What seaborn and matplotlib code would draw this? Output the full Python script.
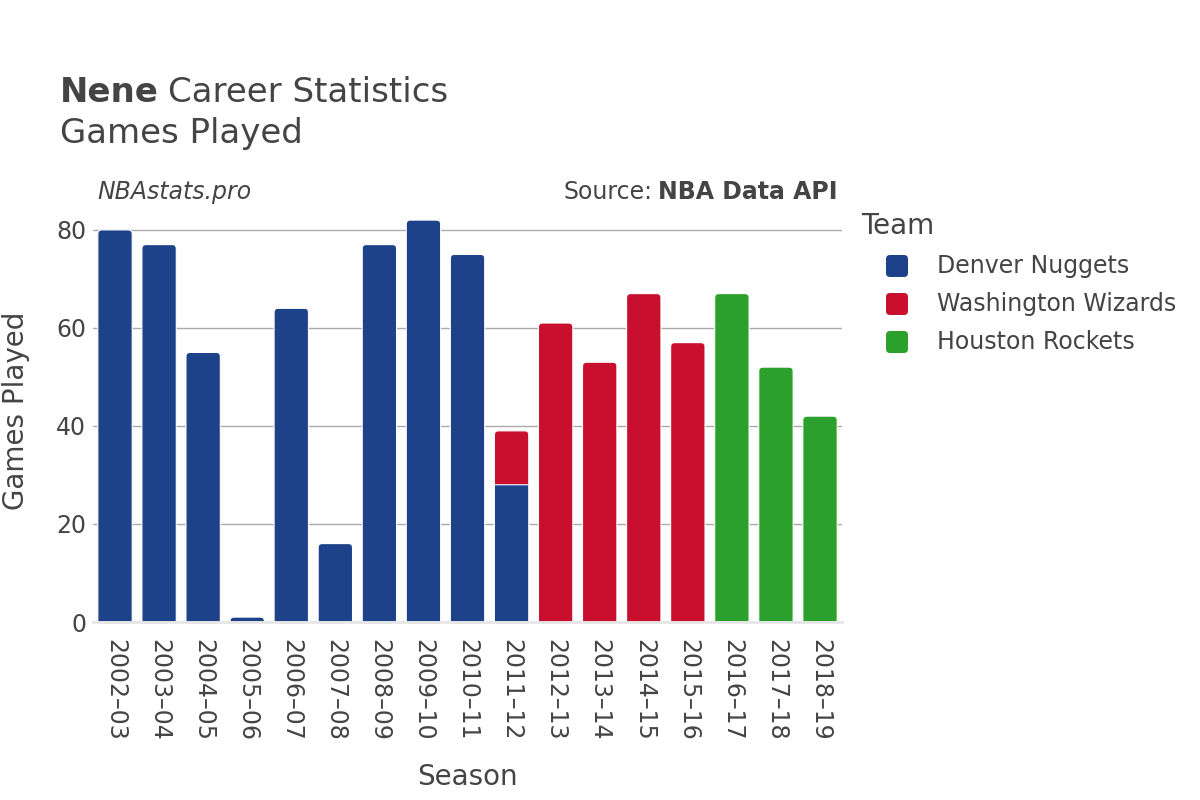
import numpy as np
import pandas as pd
import matplotlib
matplotlib.use("Agg")
import matplotlib.pyplot as plt
from matplotlib.patches import PathPatch, FancyBboxPatch
from matplotlib.path import Path
from matplotlib.transforms import IdentityTransform
import seaborn as sns

seasons = ["2002\u201303", "2003\u201304", "2004\u201305", "2005\u201306", "2006\u201307",
           "2007\u201308", "2008\u201309", "2009\u201310", "2010\u201311", "2011\u201312",
           "2012\u201313", "2013\u201314", "2014\u201315", "2015\u201316", "2016\u201317",
           "2017\u201318", "2018\u201319"]

teams = ["Denver Nuggets", "Washington Wizards", "Houston Rockets"]
team_colors = ["#1d428a", "#c8102e", "#2ca02c"]

denver_seasons = seasons[:10]
denver_games = [80, 77, 55, 1, 64, 16, 77, 82, 75, 28]
wizards_seasons = seasons[9:14]
wizards_games = [11, 61, 53, 67, 57]
rockets_seasons = seasons[14:]
rockets_games = [67, 52, 42]

df = pd.concat([
    pd.DataFrame({"Season": denver_seasons, "Team": teams[0], "Games": denver_games}),
    pd.DataFrame({"Season": wizards_seasons, "Team": teams[1], "Games": wizards_games}),
    pd.DataFrame({"Season": rockets_seasons, "Team": teams[2], "Games": rockets_games}),
], ignore_index=True)
# stacked tops: later teams in a season sit on the earlier ones
df["Top"] = df.groupby("Season")["Games"].cumsum()
totals = df.groupby("Season")["Games"].sum()

sns.set_theme(style="white")
plt.rcParams["font.family"] = ["DejaVu Sans"]
txt = "#444444"

fig = plt.figure(figsize=(12, 8), dpi=100)
ax = fig.add_axes([0.0775, 0.2225, 0.6242, 0.5275])

# draw the taller (stacked) pieces first, then overlay the earlier team
for team, col in reversed(list(zip(teams, team_colors))):
    sub = df[df["Team"] == team]
    sns.barplot(data=sub, x="Season", y="Top", order=seasons, color=col,
                width=0.78, saturation=1, ax=ax)

ax.set_ylim(0, 86.1)
ax.set_xlim(-0.5, len(seasons) - 0.5)

# round the top corners of the topmost segment of each season
rx, ry = 4 / 44.1, 4 / 4.9
for p in list(ax.patches):
    x0, y0 = p.get_x(), p.get_y()
    w, h = p.get_width(), p.get_height()
    if not np.isfinite(h) or h <= 0:
        p.remove()
        continue
    x1, y1 = x0 + w, y0 + h
    idx = int(round(x0 + w / 2))
    top = abs(h - totals[seasons[idx]]) < 1e-6
    r_y = min(ry, h) if top else 0
    r_x = rx if top else 0
    verts = [(x0, y0), (x1, y0), (x1, y1 - r_y), (x1, y1), (x1 - r_x, y1),
             (x0 + r_x, y1), (x0, y1), (x0, y1 - r_y), (x0, y0)]
    codes = [Path.MOVETO, Path.LINETO, Path.LINETO, Path.CURVE3, Path.CURVE3,
             Path.LINETO, Path.CURVE3, Path.CURVE3, Path.CLOSEPOLY]
    ax.add_patch(PathPatch(Path(verts, codes), facecolor=p.get_facecolor(),
                           edgecolor="white", linewidth=0.8, zorder=2))
    p.remove()

ax.set_yticks([0, 20, 40, 60, 80])
ax.yaxis.grid(True, color="#aaaaaa", linewidth=1)
ax.set_axisbelow(True)
for s in ["top", "right", "left"]:
    ax.spines[s].set_visible(False)
ax.spines["bottom"].set_color("#e6e6e6")
ax.spines["bottom"].set_linewidth(2)
ax.tick_params(axis="x", labelrotation=-90, labelsize=17, colors=txt, length=0, pad=12)
ax.tick_params(axis="y", labelsize=17, colors=txt, length=4, width=1, pad=1)
ax.tick_params(axis="y", color="#aaaaaa")
ax.set_xlabel("Season", fontsize=20, color=txt)
ax.set_ylabel("Games Played", fontsize=20, color=txt)
ax.xaxis.set_label_coords(0.5, -0.335)
ax.yaxis.set_label_coords(-0.084, 0.5)

# title
t1 = fig.text(0.05, 0.873, "Nene", fontsize=24.5, fontweight="bold", color=txt, va="baseline")
fig.canvas.draw()
bb = t1.get_window_extent()
fig.text(bb.x1 / 1200 + 0.008, 0.873, "Career Statistics", fontsize=24.5, color=txt,
         va="baseline")
fig.text(0.05, 0.821, "Games Played", fontsize=24.5, color=txt, va="baseline")

fig.text(0.081, 0.76, "NBAstats.pro", fontsize=17, style="italic", color=txt, va="center")
t2 = fig.text(0.698, 0.76, "NBA Data API", fontsize=17, fontweight="bold", color=txt,
              va="center", ha="right")
fig.canvas.draw()
bb2 = t2.get_window_extent()
fig.text(bb2.x0 / 1200 - 0.005, 0.76, "Source:", fontsize=17, color=txt, va="center",
         ha="right")

# legend
fig.text(861 / 1200, 1 - 226 / 800, "Team", fontsize=20, color=txt, va="center")
for i, (team, col) in enumerate(zip(teams, team_colors)):
    yc = 266 + 38 * i
    fig.add_artist(FancyBboxPatch((886, 800 - yc - 11), 22, 22,
                                  boxstyle="round,pad=0,rounding_size=4",
                                  facecolor=col, edgecolor="none",
                                  transform=IdentityTransform()))
    fig.text(937 / 1200, 1 - yc / 800, team, fontsize=17, color=txt, va="center")

fig.savefig("out.png", dpi=100)
